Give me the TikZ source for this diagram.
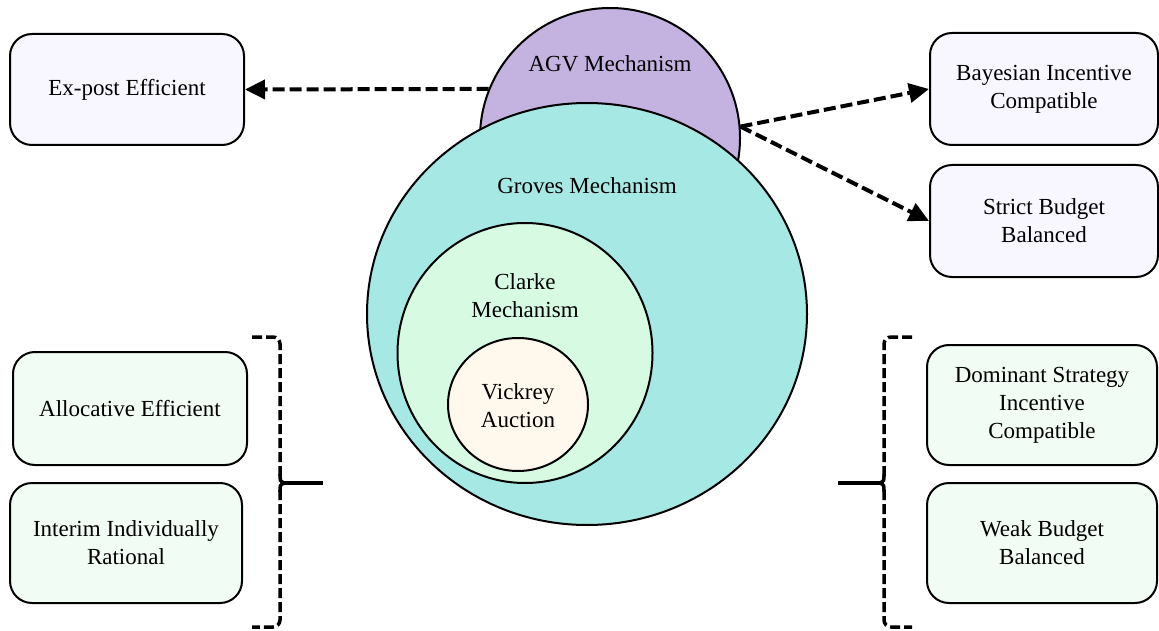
\documentclass[tikz,border=0pt]{standalone}
\usepackage{fontspec}
\setmainfont{Liberation Serif}
\usetikzlibrary{arrows.meta,shapes.geometric}
\definecolor{agvc}{HTML}{C4B3E0}
\definecolor{grovc}{HTML}{A6E8E4}
\definecolor{clarc}{HTML}{D6FAE2}
\definecolor{vicc}{HTML}{FFF8EC}
\definecolor{lavbox}{HTML}{F8F6FE}
\definecolor{grnbox}{HTML}{F1FCF4}
\begin{document}
\begin{tikzpicture}[x=1pt,y=-1pt,
  txt/.style={font=\fontsize{23}{28}\selectfont, align=center, inner sep=0pt},
  circ/.style={ellipse, draw=black, line width=2pt, inner sep=0pt},
  propbox/.style={draw=black, line width=2pt, rounded corners=22pt, align=center,
    font=\fontsize{23}{28}\selectfont, inner sep=0pt},
  lav/.style={propbox, fill=lavbox},
  grn/.style={propbox, fill=grnbox},
  darrow/.style={line width=4pt, dash pattern=on 12pt off 5pt,
    -{Triangle[length=20pt,width=19pt]}},
  bracket/.style={line width=3.5pt, dash pattern=on 10pt off 4pt, rounded corners=7pt},
  stub/.style={line width=3.5pt}
]
\useasboundingbox (0,0) rectangle (1159,631);

% circles
\node[circ, fill=agvc, minimum width=260pt, minimum height=260pt] (agv) at (610,138) {};
\node[circ, fill=grovc, minimum width=440pt, minimum height=422pt] (groves) at (587,314) {};
\node[circ, fill=clarc, minimum width=255pt, minimum height=260pt] (clarke) at (525,353) {};
\node[circ, fill=vicc, minimum width=140pt, minimum height=133pt] (vick) at (518,404.5) {};

\node[txt] (agvt) at (610,64) {AGV Mechanism};
\node[txt] (grovt) at (587,186) {Groves Mechanism};
\node[txt] (clart) at (525,296) {Clarke\\Mechanism};
\node[txt] (vickt) at (518,406) {Vickrey\\Auction};

% boxes
\node[lav, minimum width=234pt, minimum height=111pt] (expost) at (127,89.5) {\raisebox{-2pt}{Ex-post Efficient}};
\node[lav, minimum width=228pt, minimum height=112pt] (bic) at (1044,89) {Bayesian Incentive\\Compatible};
\node[lav, minimum width=228pt, minimum height=112pt] (sbb) at (1044,221) {Strict Budget\\Balanced};
\node[grn, minimum width=234pt, minimum height=113pt] (ae) at (130,408.5) {Allocative Efficient};
\node[grn, minimum width=232pt, minimum height=120pt] (iir) at (126,543) {Interim Individually\\Rational};
\node[grn, minimum width=230pt, minimum height=120pt] (dsic) at (1042,405) {Dominant Strategy\\Incentive\\Compatible};
\node[grn, minimum width=230pt, minimum height=120pt] (wbb) at (1042,543) {Weak Budget\\Balanced};

% dashed arrows
\draw[darrow] (agv.158) -- (expost.east);
\draw[darrow] (agv.5) -- (bic.west);
\draw[darrow] (agv.5) -- (sbb.west);

% left bracket
\coordinate (lbt) at (252,337);
\coordinate (lbb) at (252,627);
\coordinate (lbm) at (284,483);
\coordinate (lbe) at (323,483);
\draw[bracket] (lbt) -- (280,337) -- (280,476);
\draw[bracket] (280,490) -- (280,627) -- (lbb);
\draw[line width=3.5pt] (280,474) .. controls (280,481) .. (lbm) .. controls (280,485) .. (280,492);
\draw[stub] (lbm) -- (lbe);

% right bracket
\coordinate (rbt) at (912,337);
\coordinate (rbb) at (912,627);
\coordinate (rbm) at (880,483);
\coordinate (rbe) at (838,483);
\draw[bracket] (rbt) -- (884,337) -- (884,476);
\draw[bracket] (884,490) -- (884,627) -- (rbb);
\draw[line width=3.5pt] (884,474) .. controls (884,481) .. (rbm) .. controls (884,485) .. (884,492);
\draw[stub] (rbe) -- (rbm);
\end{tikzpicture}
\end{document}
